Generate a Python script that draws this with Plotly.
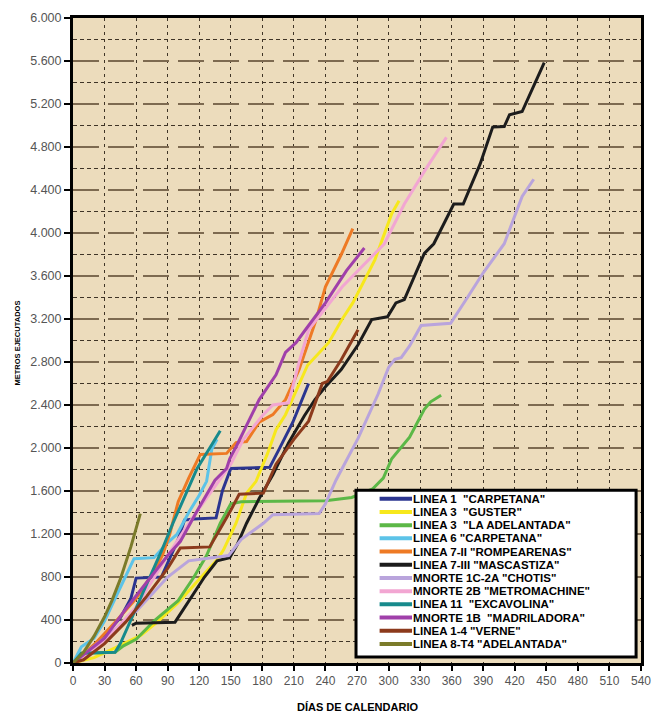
import plotly.graph_objects as go

# ---------------------------------------------------------------------------
# Avance de tuneladoras: metros ejecutados frente a días de calendario
# ---------------------------------------------------------------------------

L1_CARPETANA_DIAS = [0, 15, 30, 45, 55, 60, 84, 92, 100, 106, 115, 136, 142, 150, 187, 196, 209, 224]
L1_CARPETANA_M = [0, 120, 260, 420, 600, 790, 800, 980, 1150, 1330, 1340, 1350, 1600, 1810, 1820, 1990, 2240, 2600]

L3_GUSTER_DIAS = [0, 20, 40, 50, 65, 80, 100, 120, 137, 143, 155, 165, 174, 185, 193, 202, 213, 223, 243, 256, 266, 287, 303, 310]
L3_GUSTER_M = [0, 50, 140, 190, 260, 380, 560, 780, 960, 1050, 1300, 1580, 1690, 1950, 2170, 2310, 2550, 2770, 2980, 3200, 3350, 3750, 4180, 4300]

L3_ADELANTADA_DIAS = [0, 8, 40, 48, 60, 78, 100, 115, 127, 140, 150, 160, 240, 265, 285, 295, 303, 320, 334, 340, 350]
L3_ADELANTADA_M = [0, 90, 100, 160, 220, 400, 580, 800, 1000, 1300, 1480, 1500, 1510, 1540, 1620, 1720, 1900, 2100, 2360, 2430, 2490]

L6_CARPETANA_DIAS = [0, 8, 20, 30, 40, 50, 58, 77, 88, 99, 110, 120, 127, 132, 137]
L6_CARPETANA_M = [0, 150, 230, 390, 600, 800, 970, 980, 1100, 1200, 1400, 1560, 1690, 1990, 2080]

L7II_ROMPEARENAS_DIAS = [0, 20, 40, 60, 75, 85, 92, 100, 110, 121, 146, 155, 165, 177, 190, 202, 215, 231, 240, 255, 266]
L7II_ROMPEARENAS_M = [0, 170, 380, 600, 820, 1000, 1200, 1500, 1720, 1940, 1950, 2050, 2060, 2240, 2310, 2450, 2730, 3190, 3500, 3800, 4040]

L7III_MASCASTIZA_DIAS = [56, 60, 97, 105, 115, 125, 137, 149, 156, 165, 177, 190, 205, 220, 230, 240, 255, 271, 284, 299, 307, 315, 334, 343, 362, 371, 387, 399, 410, 415, 427, 448]
L7III_MASCASTIZA_M = [350, 370, 380, 500, 650, 800, 950, 980, 1100, 1300, 1530, 1750, 2050, 2300, 2450, 2570, 2730, 2960, 3195, 3220, 3350, 3380, 3810, 3900, 4270, 4270, 4640, 4985, 4990, 5100, 5130, 5585]

MN_1C2A_CHOTIS_DIAS = [0, 30, 60, 90, 110, 135, 148, 160, 181, 190, 234, 240, 250, 271, 281, 290, 300, 306, 312, 320, 331, 359, 375, 390, 410, 427, 438]
MN_1C2A_CHOTIS_M = [0, 230, 480, 800, 950, 985, 1000, 1150, 1300, 1380, 1390, 1480, 1700, 2090, 2300, 2500, 2750, 2825, 2840, 2950, 3140, 3160, 3400, 3630, 3900, 4340, 4500]

MN_2B_METROMACHINE_DIAS = [0, 30, 60, 90, 110, 130, 150, 162, 180, 190, 205, 215, 224, 240, 256, 287, 296, 315, 337, 355]
MN_2B_METROMACHINE_M = [0, 200, 520, 1000, 1300, 1580, 1850, 2080, 2300, 2400, 2420, 2800, 3100, 3300, 3500, 3810, 3900, 4270, 4620, 4890]

L11_EXCAVOLINA_DIAS = [0, 8, 40, 45, 55, 65, 75, 84, 95, 105, 118, 130, 140]
L11_EXCAVOLINA_M = [0, 90, 100, 180, 400, 620, 850, 1040, 1300, 1520, 1810, 2000, 2160]

MN_1B_MADRILADORA_DIAS = [0, 30, 50, 70, 90, 102, 120, 135, 146, 149, 156, 177, 193, 202, 212, 221, 240, 260, 277]
MN_1B_MADRILADORA_M = [0, 230, 500, 750, 1000, 1130, 1450, 1700, 1810, 1900, 2030, 2450, 2680, 2890, 2980, 3100, 3350, 3650, 3860]

L14_VERNE_DIAS = [0, 10, 30, 50, 70, 90, 102, 130, 140, 150, 158, 181, 193, 210, 224, 237, 242, 255, 271]
L14_VERNE_M = [0, 30, 180, 380, 620, 880, 1070, 1080, 1250, 1420, 1570, 1580, 1850, 2080, 2250, 2600, 2620, 2820, 3100]

L8T4_ADELANTADA_DIAS = [0, 10, 20, 30, 37, 45, 55, 64]
L8T4_ADELANTADA_M = [0, 100, 250, 430, 580, 780, 1080, 1390]

NOMBRES = [
    'LINEA 1  "CARPETANA"',
    'LINEA 3  "GUSTER"',
    'LINEA 3  "LA ADELANTADA"',
    'LINEA 6 "CARPETANA"',
    'LINEA 7-II "ROMPEARENAS"',
    'LINEA 7-III "MASCASTIZA"',
    'MNORTE 1C-2A "CHOTIS"',
    'MNORTE 2B "METROMACHINE"',
    'LINEA 11  "EXCAVOLINA"',
    'MNORTE 1B  "MADRILADORA"',
    'LINEA 1-4 "VERNE"',
    'LINEA 8-T4 "ADELANTADA"',
]

COLORES = [
    "#2b3590", "#f7e81c", "#5cb847", "#5cc3e8", "#ee7a24", "#1c1c1c",
    "#b9a4dc", "#f2a6d2", "#178a8c", "#a040aa", "#8c3a1c", "#7b7b2a",
]

SERIES = [
    (L1_CARPETANA_DIAS, L1_CARPETANA_M),
    (L3_GUSTER_DIAS, L3_GUSTER_M),
    (L3_ADELANTADA_DIAS, L3_ADELANTADA_M),
    (L6_CARPETANA_DIAS, L6_CARPETANA_M),
    (L7II_ROMPEARENAS_DIAS, L7II_ROMPEARENAS_M),
    (L7III_MASCASTIZA_DIAS, L7III_MASCASTIZA_M),
    (MN_1C2A_CHOTIS_DIAS, MN_1C2A_CHOTIS_M),
    (MN_2B_METROMACHINE_DIAS, MN_2B_METROMACHINE_M),
    (L11_EXCAVOLINA_DIAS, L11_EXCAVOLINA_M),
    (MN_1B_MADRILADORA_DIAS, MN_1B_MADRILADORA_M),
    (L14_VERNE_DIAS, L14_VERNE_M),
    (L8T4_ADELANTADA_DIAS, L8T4_ADELANTADA_M),
]

# Canvas and plot-area geometry (pixels)
W, H = 662, 718
ML, MR, MT, MB = 73, 11, 13, 55
PW = W - ML - MR
PH = H - MT - MB


def fx(px):
    return (px - ML) / PW


def fy(py):
    return (MT + PH - py) / PH


FONT = "Liberation Sans, Arial, sans-serif"

fig = go.Figure()
for nombre, color, (dias, metros) in zip(NOMBRES, COLORES, SERIES):
    fig.add_trace(go.Scatter(
        x=dias, y=metros, name=nombre, mode="lines",
        line=dict(color=color, width=3), showlegend=False,
    ))

# Boxed legend in the lower-right corner of the plot
shapes = [dict(
    type="rect", xref="paper", yref="paper", layer="above",
    x0=fx(361), x1=fx(646), y0=fy(657), y1=fy(489),
    fillcolor="white", line=dict(color="black", width=3),
)]
annotations = []
for i, (nombre, color) in enumerate(zip(NOMBRES, COLORES)):
    yc = 497.5 + i * 13.3
    shapes.append(dict(
        type="line", xref="paper", yref="paper", layer="above",
        x0=fx(385), x1=fx(418), y0=fy(yc), y1=fy(yc),
        line=dict(color=color, width=4),
    ))
    annotations.append(dict(
        xref="paper", yref="paper", x=fx(417), y=fy(yc),
        xanchor="left", yanchor="middle", showarrow=False,
        text="<b>" + nombre + "</b>",
        font=dict(family=FONT, size=11.5, color="black"),
    ))

annotations.append(dict(
    xref="paper", yref="paper", x=fx(362), y=fy(707),
    xanchor="center", yanchor="middle", showarrow=False,
    text="<b>DÍAS DE CALENDARIO</b>",
    font=dict(family=FONT, size=11, color="black"),
))
annotations.append(dict(
    xref="paper", yref="paper", x=fx(16), y=fy(340),
    xanchor="center", yanchor="middle", showarrow=False, textangle=-90,
    text="<b>METROS EJECUTADOS</b>",
    font=dict(family=FONT, size=7.5, color="black"),
))

fig.update_layout(
    width=W, height=H,
    margin=dict(l=ML, r=MR, t=MT, b=MB, pad=0),
    paper_bgcolor="white",
    plot_bgcolor="#ecdcbc",
    separators=",.",
    showlegend=False,
    shapes=shapes,
    annotations=annotations,
    xaxis=dict(
        range=[0, 540], dtick=30, tick0=0,
        showgrid=True, gridcolor="#3f3426", gridwidth=1.3, griddash="3px,4px",
        zeroline=False,
        showline=True, linecolor="black", linewidth=3, mirror=True,
        ticks="outside", ticklen=5, tickwidth=2, tickcolor="black",
        tickfont=dict(family=FONT, size=12, color="#555555"),
    ),
    yaxis=dict(
        range=[0, 6000], dtick=400, tick0=0, tickformat=",d",
        showgrid=True, gridcolor="#7d6a50", gridwidth=2.4, griddash="26px,9px",
        minor=dict(dtick=200, showgrid=True, gridcolor="#3f3426",
                   gridwidth=1.3, griddash="4px,3px"),
        zeroline=False,
        showline=True, linecolor="black", linewidth=3, mirror=True,
        ticks="outside", ticklen=6, tickwidth=2, tickcolor="black",
        tickfont=dict(family=FONT, size=12.5, color="#555555"),
    ),
)

fig.write_html("out.html")
